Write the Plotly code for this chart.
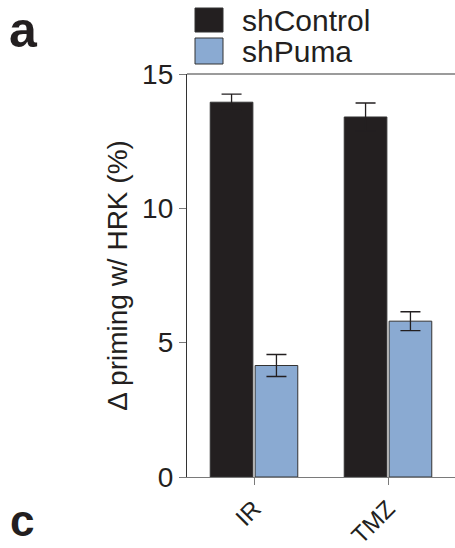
import plotly.graph_objects as go

# Treatment conditions and measured change in priming with HRK peptide (%)
categories = ["IR", "TMZ"]
series_names = ["shControl", "shPuma"]
sh_control = [13.95, 13.4]
sh_control_err = [0.3, 0.52]
sh_puma = [4.15, 5.8]
sh_puma_err = [0.41, 0.35]
y_ticks = [0, 5, 10, 15]

INK = "#231f20"
BLUE = "#8aaad2"
GREY = "#7a7a7a"
FONT = "Liberation Sans, Arial, Helvetica, sans-serif"

# plot-area geometry in pixels, used to place paper-coordinate decorations
L, T, W, H = 187, 74, 268, 403


def px(x):
    return (x - L) / W


def py(y):
    return (T + H - y) / H


fig = go.Figure()
for name, vals, errs, color in [
    (series_names[0], sh_control, sh_control_err, INK),
    (series_names[1], sh_puma, sh_puma_err, BLUE),
]:
    fig.add_trace(go.Bar(
        x=categories, y=vals, name=name,
        marker=dict(color=color, line=dict(color="#333333", width=1)),
        error_y=dict(type="data", array=errs, visible=True,
                     color=INK, thickness=1.3, width=10),
        showlegend=False,
    ))

# Legend drawn as large swatches with labels
legend_rows = [(series_names[0], INK, 8, 32), (series_names[1], BLUE, 38, 64)]
for label, color, y0, y1 in legend_rows:
    fig.add_shape(type="rect", xref="paper", yref="paper",
                  x0=px(195), x1=px(223), y0=py(y1), y1=py(y0),
                  fillcolor=color, line=dict(color="#333333", width=1))
    fig.add_annotation(xref="paper", yref="paper",
                       x=px(240), y=py((y0 + y1) / 2),
                       text=label, showarrow=False, xanchor="left", yanchor="middle",
                       font=dict(family=FONT, size=30, color=INK))

# Top border line at the axis maximum
fig.add_shape(type="line", xref="paper", yref="paper", x0=0, x1=1, y0=1, y1=1,
              line=dict(color=GREY, width=1.3))

# Panel letters
fig.add_annotation(xref="paper", yref="paper", x=px(7), y=py(0),
                   text="<b>a</b>", showarrow=False, xanchor="left", yanchor="top",
                   font=dict(family=FONT, size=50, color=INK))
fig.add_annotation(xref="paper", yref="paper", x=px(8), y=py(547),
                   text="<b>c</b>", showarrow=False, xanchor="left", yanchor="bottom",
                   font=dict(family=FONT, size=44, color=INK))

fig.update_layout(
    width=455, height=548,
    margin=dict(l=L, r=0, t=T, b=548 - T - H),
    paper_bgcolor="white", plot_bgcolor="white",
    barmode="group", bargap=0.33, bargroupgap=0.05,
    font=dict(family=FONT, color=INK),
    xaxis=dict(
        range=[-0.5, 1.5], showline=True, linecolor=GREY, linewidth=1.3,
        ticks="outside", ticklen=7, tickcolor=GREY, tickwidth=1.3,
        tickangle=-45, tickfont=dict(size=24, color=INK),
        showgrid=False, zeroline=False, automargin=False,
    ),
    yaxis=dict(
        range=[0, 15], tickvals=y_ticks, showline=True, linecolor="#333333",
        linewidth=1.3, ticks="outside", ticklen=7, tickcolor=GREY, tickwidth=1.3,
        tickfont=dict(size=28, color=INK), showgrid=False, zeroline=False,
        automargin=False,
        title=dict(text="\u0394 priming w/ HRK (%)", font=dict(size=28, color=INK),
                   standoff=6),
    ),
)

fig.write_html("out.html")
